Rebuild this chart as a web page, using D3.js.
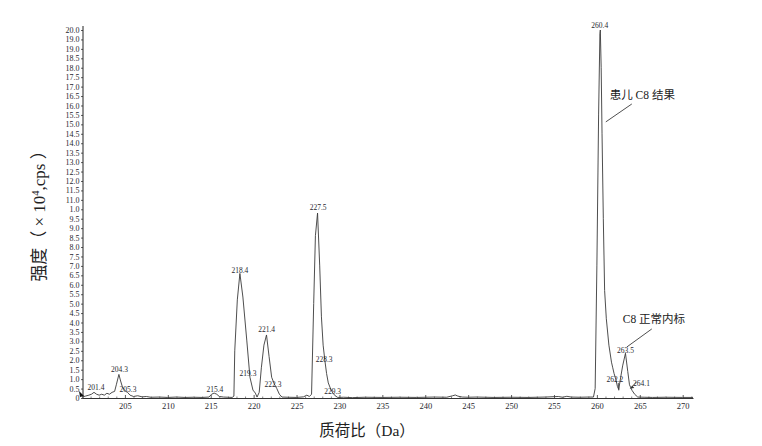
<!DOCTYPE html>
<html><head><meta charset="utf-8">
<script src="https://cdn.jsdelivr.net/npm/d3@7"></script>
<style>
html,body{margin:0;padding:0;background:#fff;}
svg{display:block;}
</style></head>
<body>
<svg id="chart" width="762" height="446"></svg>
<script>
// ---- data ----
const mz = [200.0,200.4,200.8,201.1,201.4,201.7,202.0,202.3,202.6,202.9,203.2,203.5,203.8,204.0,204.3,204.5,204.7,204.9,205.1,205.3,205.6,206.0,206.5,207.0,207.5,208.0,209.0,210.0,211.0,212.0,213.0,214.0,214.8,215.1,215.4,215.7,216.0,216.5,217.0,217.5,217.7,217.8,218.1,218.4,218.75,219.2,219.57,219.92,220.2,220.4,220.65,220.9,221.2,221.5,221.8,222.1,222.4,222.7,223.0,223.3,224.0,225.0,225.8,226.2,226.5,226.75,227.0,227.2,227.45,227.7,227.9,228.1,228.3,228.5,228.7,229.0,229.24,229.5,229.8,230.5,231.5,233.0,235.0,237.0,239.0,241.0,242.5,243.2,243.5,243.8,244.3,245.0,246.0,248.0,250.0,252.0,254.0,255.5,256.0,256.5,257.0,258.0,259.0,259.6,259.8,260.0,260.2,260.35,260.4,260.5,260.6,260.75,260.9,261.1,261.4,261.7,261.85,262.0,262.2,262.4,262.55,262.7,263.0,263.33,263.6,263.8,264.1,264.4,264.76,265.5,266.5,268.0,270.0,271.2];
const intensity = [0.05,0.1,0.15,0.2,0.3,0.2,0.15,0.2,0.15,0.25,0.2,0.3,0.35,0.7,1.25,0.9,0.6,0.45,0.35,0.3,0.15,0.08,0.12,0.06,0.08,0.04,0.05,0.03,0.05,0.03,0.04,0.03,0.05,0.2,0.26,0.2,0.08,0.05,0.04,0.03,0.1,2.5,5.2,6.6,5.35,3.07,1.1,0.42,0.26,0.05,0.3,1.6,2.8,3.34,2.2,1.1,0.75,0.5,0.2,0.05,0.04,0.03,0.06,0.15,0.08,0.2,5.0,8.6,9.8,7.0,4.3,2.8,2.0,1.3,0.8,0.45,0.26,0.12,0.03,0.04,0.02,0.04,0.03,0.04,0.03,0.05,0.04,0.12,0.16,0.1,0.05,0.04,0.05,0.03,0.04,0.03,0.05,0.08,0.04,0.09,0.05,0.04,0.05,0.05,0.5,7.0,15.0,19.3,19.5,17.5,14.0,9.5,5.7,4.2,2.8,1.9,1.6,1.3,1.0,0.6,0.45,0.9,1.7,2.37,1.4,0.7,0.4,0.2,0.05,0.04,0.03,0.04,0.03,0.03];

const yTickLabels = ["0","0.5","1.0","1.5","2.0","2.5","3.0","3.5","4.0","4.5","5.0","5.5","6.0","6.5","7.0","7.5","8.0","8.5","9.0","9.5","1.0","11.0","11.5","12.0","12.5","13.0","13.5","14.0","14.5","15.0","15.5","16.0","16.5","17.0","17.5","18.0","18.5","19.0","19.0","20.0"];
const xTickValues = [205,210,215,220,225,230,235,240,245,250,255,260,265,270];

const peakLabels = ["201.4","204.3","205.3","215.4","218.4","219.3","221.4","222.3","227.5","228.3","229.3","260.4","262.2","263.5","264.1"];
const peakLabelMz = [201.63,204.37,205.36,215.49,218.4,219.34,221.51,222.25,227.52,228.22,229.2,260.34,262.09,263.33,265.2];
const peakLabelInt = [0.42,1.38,0.32,0.32,6.62,1.17,3.5,0.58,9.96,1.91,0.23,19.61,0.85,2.38,0.64];

const notes = ["患儿 C8 结果","C8 正常内标"];
const noteMz = [261.5,263.02];
const noteInt = [15.85,3.97];
const noteLineFromMz = [264.07,266.4], noteLineFromInt = [15.58,3.66];
const noteLineToMz = [261.04,263.48], noteLineToInt = [14.63,2.70];

// ---- drawing ----
const svg = d3.select("#chart");
const x = d3.scaleLinear().domain([200,271.2]).range([82,693]);
const y = d3.scaleLinear().domain([0,19.5]).range([398,30]);
const numFont = "'Liberation Serif','Times New Roman',serif";
const cjkFont = "'Liberation Serif','Noto Sans CJK SC',serif";
const textCol = "#1f1f2e";

// y axis
const yAxis = d3.axisLeft(y)
  .tickValues(d3.range(yTickLabels.length).map(i=>i*0.5))
  .tickFormat((d,i)=>yTickLabels[i])
  .tickSizeInner(2).tickSizeOuter(0).tickPadding(1.5);
const gy = svg.append("g").attr("transform",`translate(${x(200)+1},0)`).call(yAxis);
gy.select(".domain").remove();
gy.selectAll("line").attr("stroke","#333").attr("stroke-width",0.8);
gy.selectAll("text").attr("font-family",numFont).attr("font-size",8).attr("fill",textCol);
svg.append("line").attr("x1",x(200)+1).attr("x2",x(200)+1).attr("y1",y(0)).attr("y2",y(19.5)-4)
  .attr("stroke","#222").attr("stroke-width",1);

// x axis
const gx = svg.append("g").attr("transform",`translate(0,${y(0)})`)
  .call(d3.axisBottom(x).tickValues(xTickValues).tickFormat(d3.format("d")).tickSizeInner(-3).tickSizeOuter(0).tickPadding(5));
gx.select(".domain").attr("stroke","#333").attr("stroke-width",1);
gx.selectAll("line").attr("stroke","#333").attr("stroke-width",0.8);
gx.selectAll("text").attr("font-family",numFont).attr("font-size",8.5).attr("fill",textCol);
const gxm = svg.append("g").attr("transform",`translate(0,${y(0)})`)
  .call(d3.axisBottom(x).tickValues(d3.range(201,272).filter(v=>v%5!==0)).tickFormat("").tickSizeInner(-1.5).tickSizeOuter(0));
gxm.select(".domain").remove();
gxm.selectAll("line").attr("stroke","#555").attr("stroke-width",0.7);

// origin marker
svg.append("path")
  .attr("d",`M${x(200)-3},${y(0)-7} L${x(200)+2},${y(0)-2} L${x(200)-2},${y(0)-1} Z`)
  .attr("fill","#111");

// trace
const line = d3.line().x((d,i)=>x(mz[i])).y((d,i)=>y(intensity[i]));
svg.append("path").datum(intensity).attr("d",line)
  .attr("fill","none").attr("stroke","#3a3a3a").attr("stroke-width",0.9).attr("stroke-linejoin","round");

// peak labels
svg.append("g").selectAll("text").data(peakLabels).join("text")
  .attr("x",(d,i)=>x(peakLabelMz[i])).attr("y",(d,i)=>y(peakLabelInt[i]))
  .attr("text-anchor","middle").attr("font-family",numFont).attr("font-size",7.5).attr("fill",textCol)
  .text(d=>d);

// small leaders for 262.2 and 264.1
svg.append("line").attr("x1",x(262.5)).attr("y1",y(0.8)).attr("x2",x(262.55)).attr("y2",y(0.4))
  .attr("stroke","#333").attr("stroke-width",0.8);
svg.append("line").attr("x1",x(264.6)).attr("y1",y(0.85)).attr("x2",x(263.9)).attr("y2",y(0.5))
  .attr("stroke","#333").attr("stroke-width",0.8);
svg.append("path").attr("d",`M${x(263.9)},${y(0.5)} l4,-0.5 l-2.2,-2.6 Z`).attr("fill","#333");

// annotations
notes.forEach((t,i)=>{
  svg.append("line").attr("x1",x(noteLineFromMz[i])).attr("y1",y(noteLineFromInt[i]))
    .attr("x2",x(noteLineToMz[i])).attr("y2",y(noteLineToInt[i])).attr("stroke","#222").attr("stroke-width",0.8);
  svg.append("text").attr("x",x(noteMz[i])).attr("y",y(noteInt[i]))
    .attr("font-family",cjkFont).attr("font-size",11.5).attr("fill","#222").text(t);
});

// axis titles
svg.append("text").attr("x",367).attr("y",436).attr("text-anchor","middle")
  .attr("font-family",cjkFont).attr("font-size",15.5).attr("fill","#222").text("质荷比（Da）");
const yt = svg.append("text").attr("transform","translate(45,212) rotate(-90)").attr("text-anchor","middle")
  .attr("font-family",cjkFont).attr("font-size",17).attr("fill","#222");
yt.append("tspan").text("强度（ × 10");
yt.append("tspan").attr("dy",-6.5).attr("font-size",10.5).text("4");
yt.append("tspan").attr("dy",6.5).text(",cps ）");
</script>
</body></html>
